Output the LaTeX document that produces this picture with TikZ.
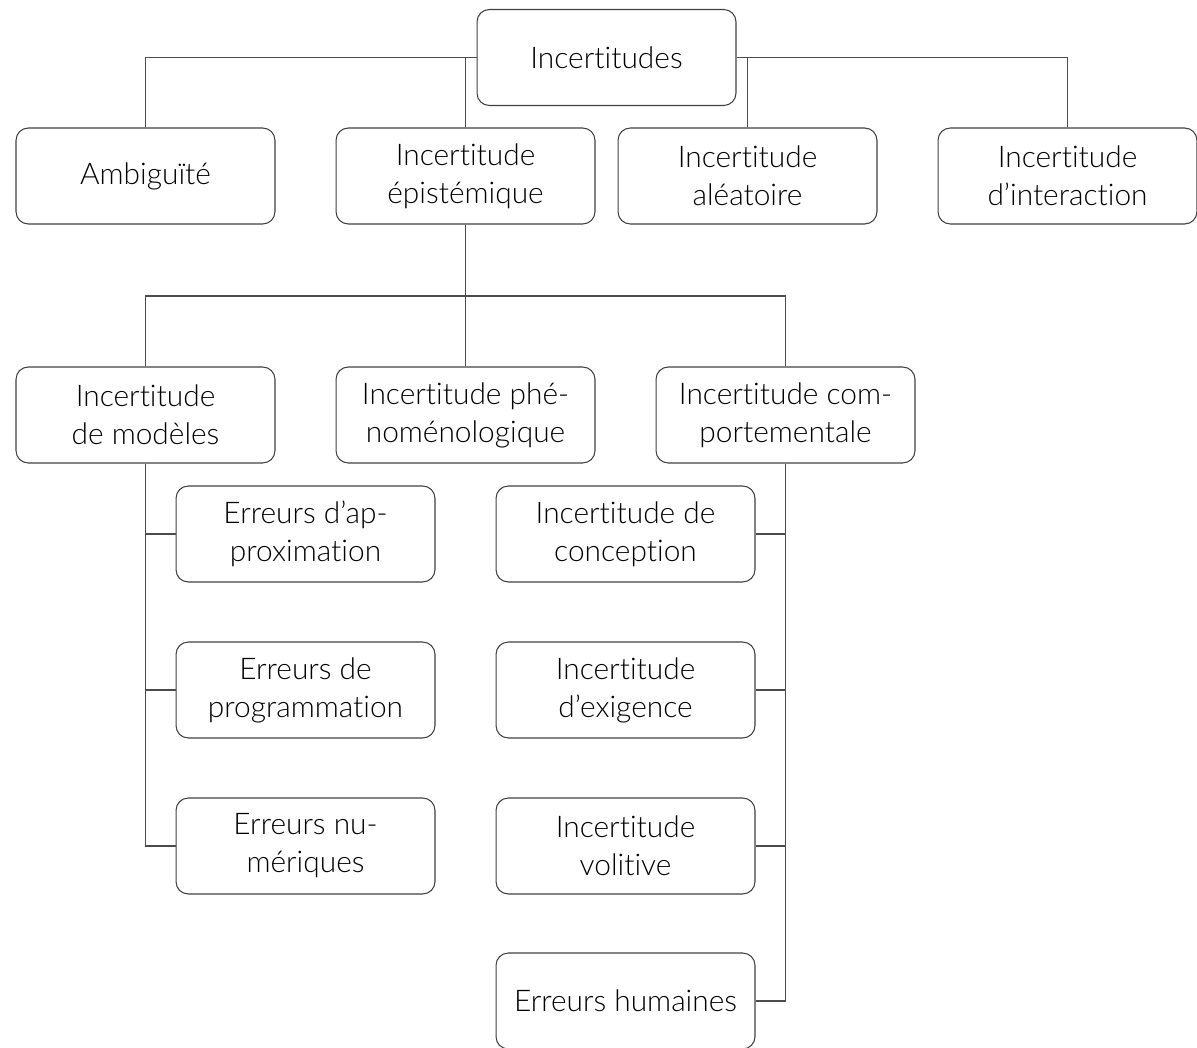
\documentclass[tikz,border=0pt]{standalone}
\usepackage{fontspec}
\setmainfont{Lato Light}[Ligatures=NoCommon]
\usepackage{tikz}
\usetikzlibrary{positioning}

\tikzset{
  boite/.style={draw=black!75, line width=0.6pt, rounded corners=7pt,
    minimum width=5.18cm, minimum height=1.92cm, inner sep=0pt,
    align=center, font=\fontsize{17}{21.6}\selectfont},
  lien/.style={draw=black!70, line width=0.6pt}
}

\begin{document}
\begin{tikzpicture}[x=0.02cm, y=-0.02cm]
        \useasboundingbox (0,0) rectangle (1197,1048);
        % niveau 1
        \node[boite] (inc) at (606.5,57.5) {Incertitudes};
        \node[boite] (amb) at (145.5,176) {Ambiguïté};
        \node[boite] (epi) at (465.5,176) {Incertitude\\épistémique};
        \node[boite] (alea) at (747.5,176) {Incertitude\\aléatoire};
        \node[boite] (inter) at (1067.5,176) {Incertitude\\d’interaction};
        % niveau 2
        \node[boite] (mod) at (145.5,415) {Incertitude\\de modèles};
        \node[boite] (phe) at (465.5,415) {Incertitude phé-\\noménologique};
        \node[boite] (comp) at (785.5,415) {Incertitude com-\\portementale};
        \coordinate (embr) at (465.5,296);
        % niveau 3
        \node[boite] (approx) at (305.5,534) {Erreurs d’ap-\\proximation};
        \node[boite] (prog) at (305.5,690) {Erreurs de\\programmation};
        \node[boite] (num) at (305.5,846) {Erreurs nu-\\mériques};
        \node[boite] (concep) at (625.5,534) {Incertitude de\\conception};
        \node[boite] (exig) at (625.5,690) {Incertitude\\d’exigence};
        \node[boite] (vol) at (625.5,846) {Incertitude\\volitive};
        \node[boite] (hum) at (625.5,1001) {Erreurs humaines};
        % liens
        \draw[lien] (inc.west) -| (amb.north);
        \draw[lien] (inc.east) -| (inter.north);
        \draw[lien] (epi.north) -- (epi.north |- inc.west);
        \draw[lien] (alea.north) -- (alea.north |- inc.east);
        \draw[lien] (epi.south) -- (phe.north);
        \draw[lien] (mod.north) |- (embr) -| (comp.north);
        \draw[lien] (mod.south) |- (num.west);
        \foreach \n in {approx,prog}
        \draw[lien] (\n.west) -- (\n.west -| mod.south);
        \draw[lien] (comp.south) |- (hum.east);
        \foreach \n in {concep,exig,vol}
        \draw[lien] (\n.east) -- (\n.east -| comp.south);
\end{tikzpicture}
\end{document}
